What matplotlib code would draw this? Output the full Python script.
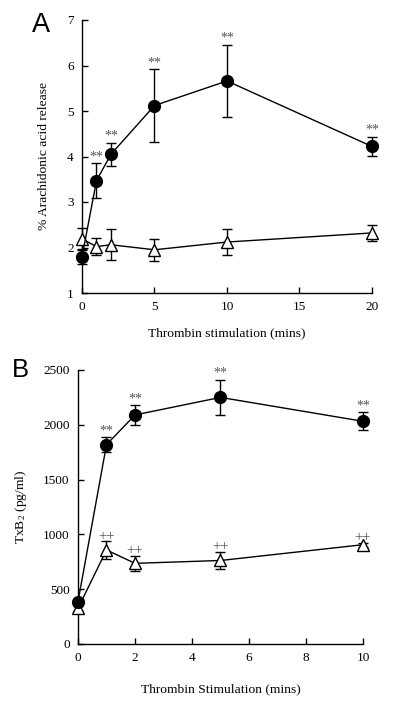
import matplotlib
matplotlib.use("Agg")
import matplotlib.pyplot as plt

plt.rcParams['font.family'] = ['Liberation Serif', 'DejaVu Serif']
plt.rcParams['mathtext.default'] = 'regular'

# Panel A: % arachidonic acid release
a_x = [0, 1, 2, 5, 10, 20]
a_thr = [1.79, 3.47, 4.05, 5.12, 5.66, 4.22]
a_thr_err = [0.15, 0.38, 0.25, 0.80, 0.79, 0.21]
a_ctl = [2.19, 2.02, 2.06, 1.95, 2.12, 2.32]
a_ctl_err = [0.23, 0.18, 0.34, 0.24, 0.28, 0.18]
a_stars = [1, 2, 5, 10, 20]

# Panel B: TxB2
b_x = [0, 1, 2, 5, 10]
b_thr = [386, 1819, 2090, 2250, 2032]
b_thr_err = [20, 67, 88, 162, 83]
b_ctl = [325, 858, 736, 762, 906]
b_ctl_err = [25, 78, 70, 76, 20]
b_stars = [1, 2, 5, 10]
b_plus = [1, 2, 5, 10]

W, H = 406, 703
fig = plt.figure(figsize=(W / 100, H / 100), dpi=100)
axA = fig.add_axes([82 / W, 1 - 293 / H, 290 / W, 273 / H])
axB = fig.add_axes([78 / W, 1 - 644 / H, 285 / W, 274 / H])


def style(ax):
    for s in ['top', 'right']:
        ax.spines[s].set_visible(False)
    for s in ['left', 'bottom']:
        ax.spines[s].set_linewidth(1.0)
    ax.tick_params(direction='in', length=4, width=1.0, labelsize=9.5, pad=6)


def series(ax, x, y, e, marker, face):
    ax.errorbar(x, y, yerr=e, color='black', marker=marker, markersize=8.5 if marker == 'o' else 8,
                markerfacecolor=face, markeredgecolor='black', markeredgewidth=1.0,
                linewidth=1.0, elinewidth=1.0, capsize=3.5, capthick=1.0, clip_on=False, zorder=3)


style(axA)
series(axA, a_x, a_ctl, a_ctl_err, '^', 'white')
series(axA, a_x, a_thr, a_thr_err, 'o', 'black')
for xi in a_stars:
    i = a_x.index(xi)
    axA.annotate('**', (xi, a_thr[i] + a_thr_err[i]), xytext=(0, 0), textcoords='offset points',
                 ha='center', va='bottom', fontsize=10, color='#555555')
axA.set_xlim(0, 20)
axA.set_ylim(1, 7)
axA.set_xticks([0, 5, 10, 15, 20])
axA.set_yticks(range(1, 8))
axA.set_xlabel('Thrombin stimulation (mins)', fontsize=9.7, labelpad=10)
axA.set_ylabel('% Arachidonic acid release', fontsize=9.7, labelpad=12)
fig.text(32 / W, 1 - 32 / H, 'A', fontsize=19.5, family='Liberation Sans', ha='left', va='baseline')

style(axB)
series(axB, b_x, b_ctl, b_ctl_err, '^', 'white')
series(axB, b_x, b_thr, b_thr_err, 'o', 'black')
for xi in b_stars:
    i = b_x.index(xi)
    axB.annotate('**', (xi, b_thr[i] + b_thr_err[i]), xytext=(0, 0), textcoords='offset points',
                 ha='center', va='bottom', fontsize=10, color='#555555')
for xi in b_plus:
    i = b_x.index(xi)
    axB.annotate('++', (xi, b_ctl[i] + b_ctl_err[i]), xytext=(0, -1), textcoords='offset points',
                 ha='center', va='bottom', fontsize=10.5, color='#555555')
axB.set_xlim(0, 10)
axB.set_ylim(0, 2500)
axB.set_xticks(range(0, 11, 2))
axB.set_yticks(range(0, 2501, 500))
axB.set_xlabel('Thrombin Stimulation (mins)', fontsize=9.7, labelpad=14)
axB.set_ylabel('TxB$_2$ (pg/ml)', fontsize=9.7, labelpad=10)
fig.text(12 / W, 1 - 377 / H, 'B', fontsize=18.5, family='Liberation Sans', ha='left', va='baseline')

fig.savefig('out.png', dpi=100)
